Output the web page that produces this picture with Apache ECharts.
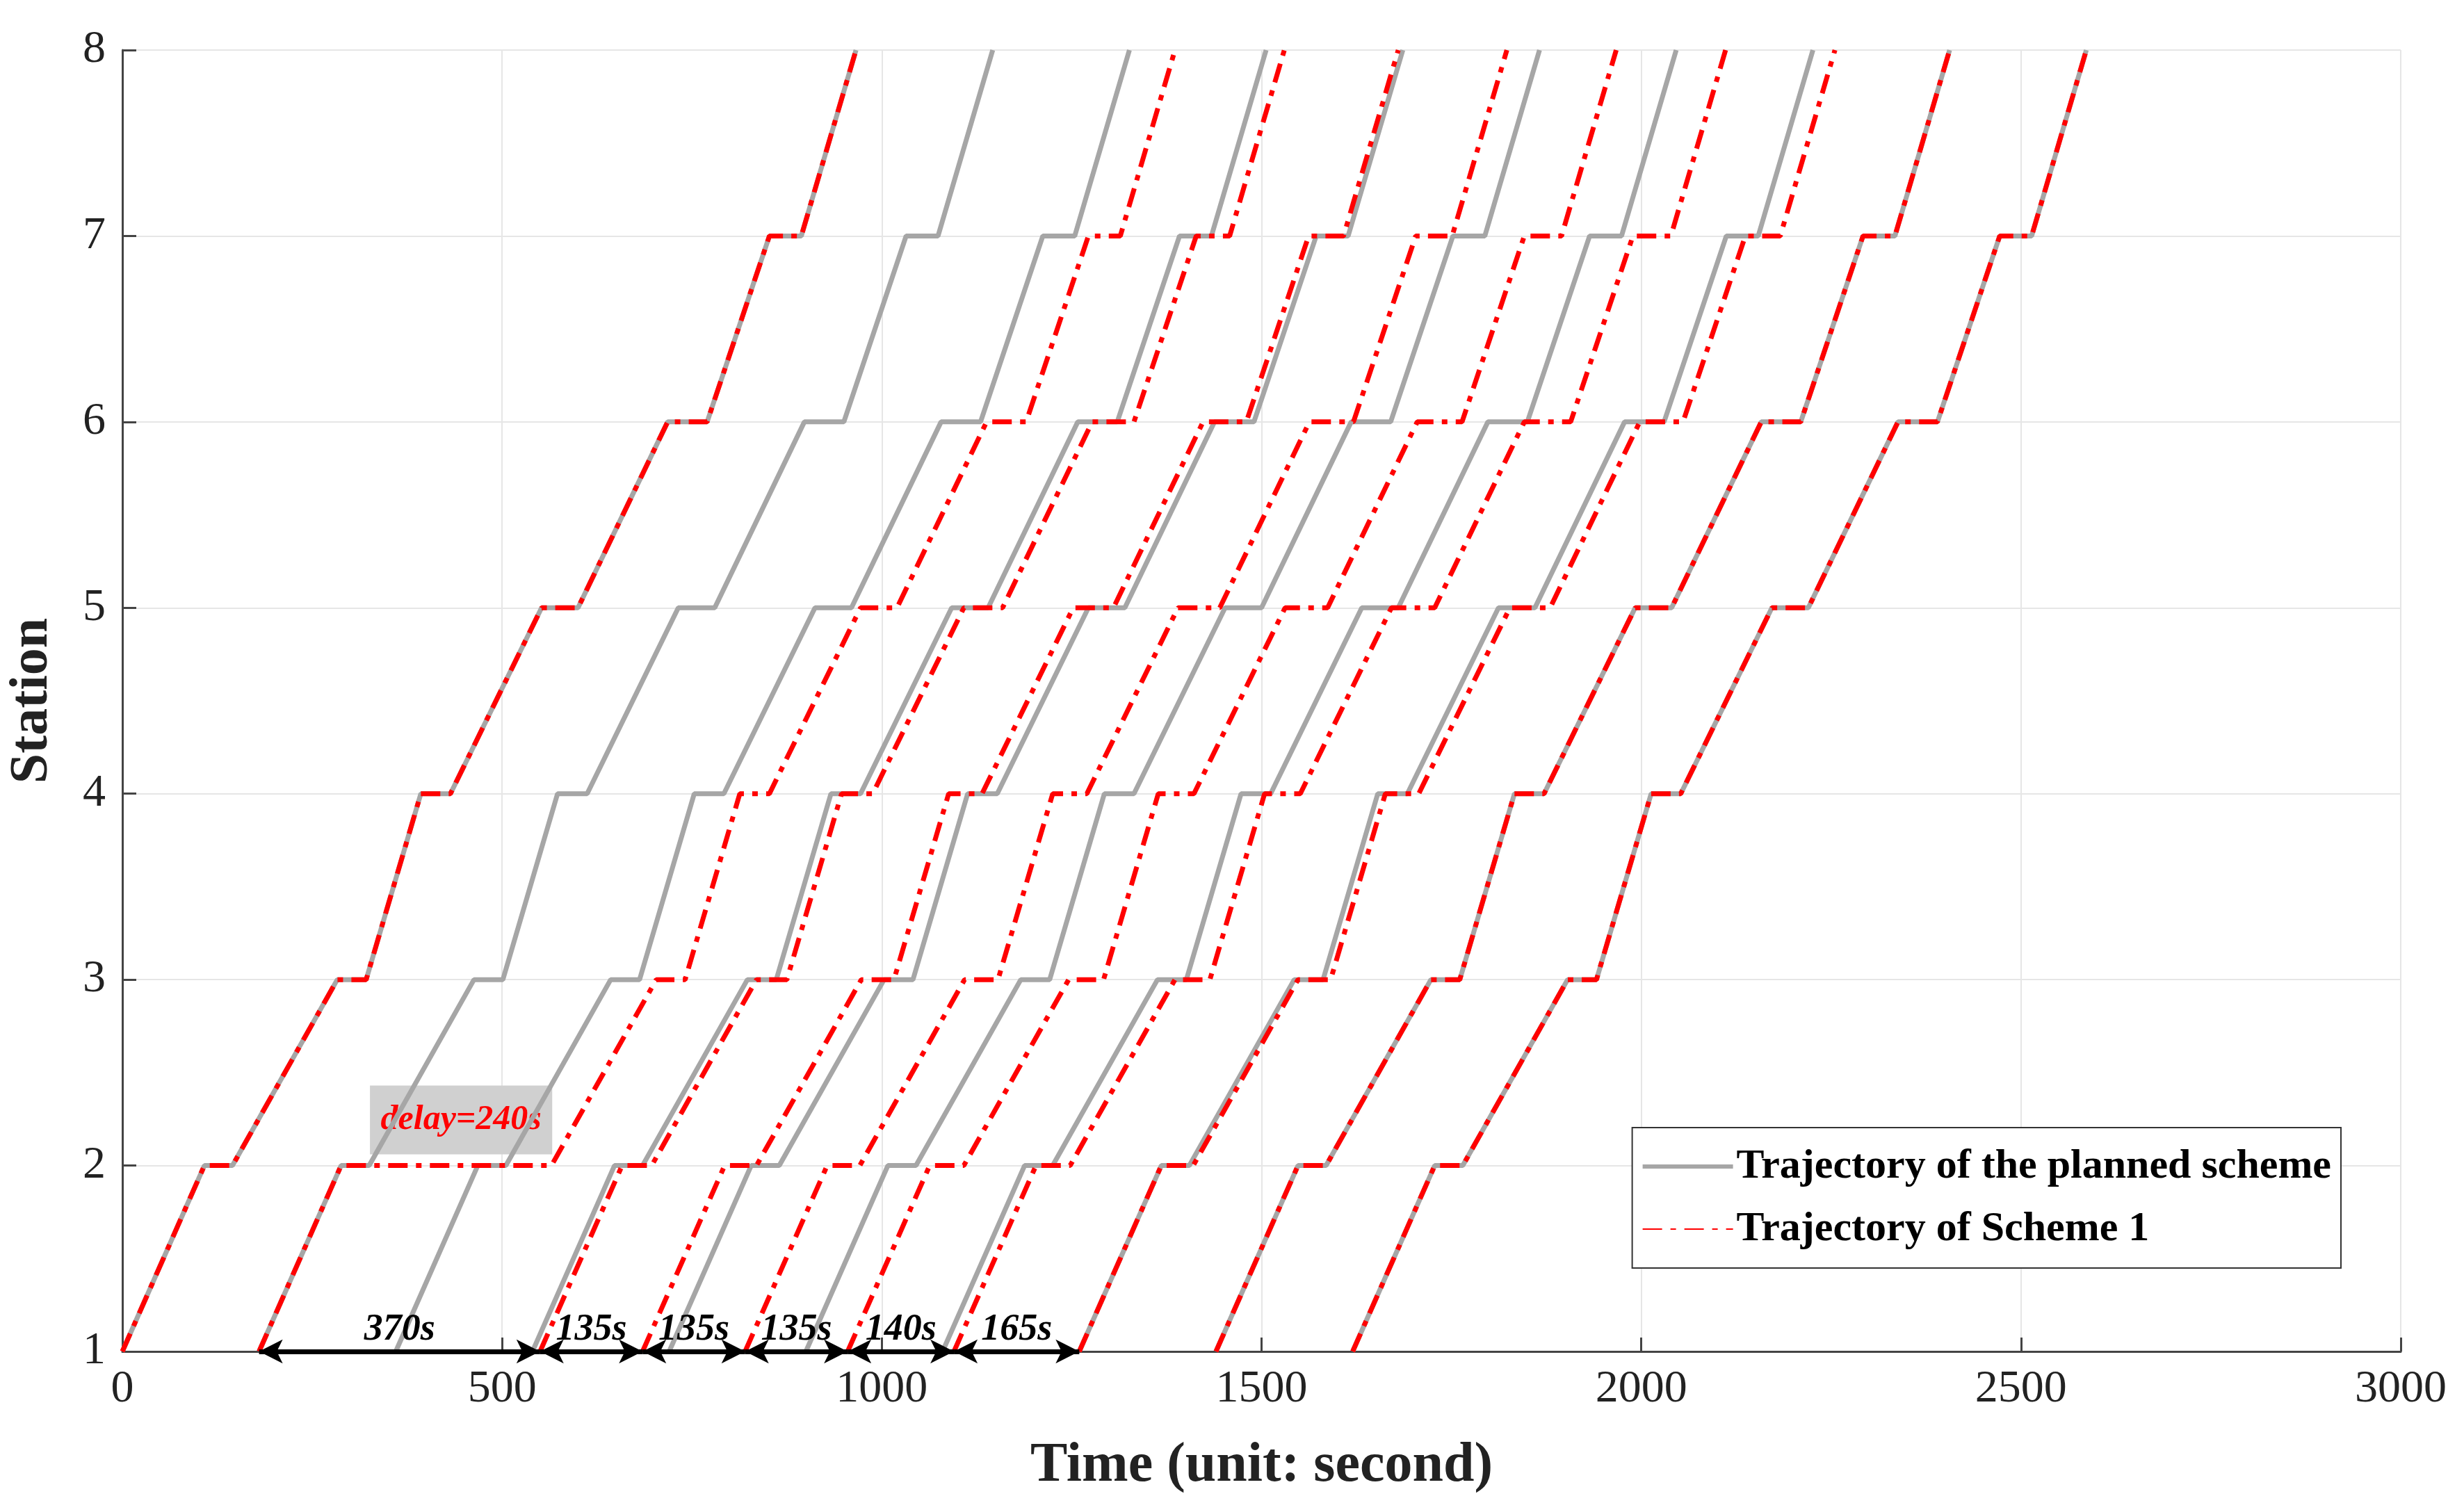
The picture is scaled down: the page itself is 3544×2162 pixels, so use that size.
<!DOCTYPE html>
<html><head><meta charset="utf-8">
<script src="https://cdn.jsdelivr.net/npm/echarts@6/dist/echarts.min.js"></script>
<style>html,body{margin:0;padding:0;background:#fff}#c{width:3544px;height:2162px}</style>
</head><body><div id="c"></div>
<script>
// Station indices
const stations = [1,2,3,4,5,6,7,8];
// Running time between consecutive stations (s), dwell at stations 2..7 (s)
const runTimes = [108,138,72,120,118,82,72];
const dwellTimes = [37,38,39,48,52,42];
// Planned scheme departure times at station 1
const plannedStarts = [0,180,360,540,720,900,1080,1260,1440,1620];
// Scheme 1 departure times at station 1
const scheme1Starts = [0,180,550,685,820,955,1095,1260,1440,1620];
// Scheme 1 extra dwell (s) at stations 2..7 for each train
const scheme1ExtraDwell = [
  [0,0,0,0,0,0],
  [240,0,0,0,0,0],
  [2,2,2,3,3,2],
  [5,5,5,5,5,4],
  [6,6,6,7,6,6],
  [8,8,8,8,7,7],
  [8,8,8,9,9,8],
  [5,5,5,5,5,4],
  [0,0,0,0,0,0],
  [0,0,0,0,0,0]
];
// Headway annotations at station 1
const headways = [[180,550,'370s'],[550,685,'135s'],[685,820,'135s'],[820,955,'135s'],[955,1095,'140s'],[1095,1260,'165s']];
const xTicks = [0,500,1000,1500,2000,2500,3000];

function trajectory(start, extra){
  const pts = [[start,1]];
  let t = start;
  for(let i=0;i<runTimes.length;i++){
    t += runTimes[i];
    pts.push([t, stations[i+1]]);
    if(i < dwellTimes.length){
      t += dwellTimes[i] + (extra ? extra[i] : 0);
      pts.push([t, stations[i+1]]);
    }
  }
  return pts;
}
const FONT = '"Liberation Serif","Times New Roman",serif';
const PLAN = 'Trajectory of the planned scheme';
const S1 = 'Trajectory of Scheme 1';
const series = [];
plannedStarts.forEach(s=>series.push({
  name:PLAN,type:'line',data:trajectory(s,null),symbol:'none',z:2,
  lineStyle:{color:'#a6a6a6',width:7},itemStyle:{color:'#a6a6a6'},animation:false
}));
scheme1Starts.forEach((s,i)=>series.push({
  name:S1,type:'line',data:trajectory(s,scheme1ExtraDwell[i]),symbol:'none',z:3,
  lineStyle:{color:'#ff0000',width:7,type:[28,12,8,12]},itemStyle:{color:'#ff0000'},animation:false
}));
series.push({
  type:'line',data:[],z:1,animation:false,
  markArea:{silent:true,itemStyle:{color:'#d0d0d0'},
    label:{show:true,position:'inside',formatter:'delay=240s',color:'#ff0000',fontFamily:FONT,fontStyle:'italic',fontWeight:'bold',fontSize:50},
    data:[[{coord:[326,2.06]},{coord:[566,2.43]}]]}
});
series.push({
  type:'line',data:[],z:5,animation:false,
  markLine:{silent:true,symbol:['arrow','arrow'],symbolSize:[26,34],
    lineStyle:{color:'#000',width:7,type:'solid'},
    label:{show:true,position:'insideMiddleTop',color:'#000',fontFamily:FONT,fontStyle:'italic',fontWeight:'bold',fontSize:54,distance:4},
    data:headways.map(h=>[{coord:[h[0],1],name:h[2]},{coord:[h[1],1]}]),
  }
});
series[series.length-1].markLine.label.formatter = p=>p.name;

const chart = echarts.init(document.getElementById('c'));
chart.setOption({
  animation:false,
  backgroundColor:'#fff',
  grid:{left:176,right:91,top:72,bottom:218},
  legend:{
    orient:'vertical',right:177,top:1622,padding:[26,14,26,14],itemGap:30,
    backgroundColor:'#fff',borderColor:'#333',borderWidth:2,
    itemWidth:130,itemHeight:14,
    textStyle:{fontFamily:FONT,fontWeight:'bold',fontSize:60,color:'#000'},
    data:[{name:PLAN,icon:'path://M0,0H130V6H0Z'},{name:S1,itemStyle:{opacity:0}}]
  },
  xAxis:{
    type:'value',min:0,max:3000,interval:500,
    name:'Time (unit: second)',nameLocation:'middle',nameGap:125,
    nameTextStyle:{fontFamily:FONT,fontWeight:'bold',fontSize:80,color:'#222'},
    axisLine:{lineStyle:{color:'#444',width:3}},
    axisTick:{inside:true,length:20,lineStyle:{color:'#444',width:3}},
    axisLabel:{fontFamily:FONT,fontSize:66,color:'#222',margin:22,formatter:v=>String(v)},
    splitLine:{lineStyle:{color:'#e6e6e6',width:2}}
  },
  yAxis:{
    type:'value',min:1,max:8,interval:1,
    name:'Station',nameLocation:'middle',nameGap:90,
    nameTextStyle:{fontFamily:FONT,fontWeight:'bold',fontSize:78,color:'#222'},
    axisLine:{show:true,lineStyle:{color:'#444',width:3}},
    axisTick:{show:true,inside:true,length:20,lineStyle:{color:'#444',width:3}},
    axisLabel:{fontFamily:FONT,fontSize:66,color:'#222',margin:24},
    splitLine:{lineStyle:{color:'#e6e6e6',width:2}}
  },
  series:series
});
</script></body></html>
